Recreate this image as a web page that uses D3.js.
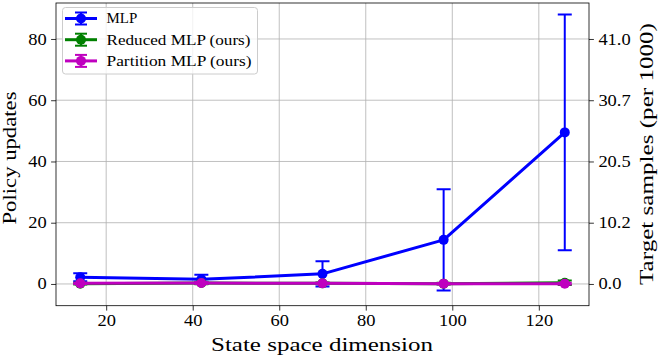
<!DOCTYPE html>
<html><head><meta charset="utf-8">
<script src="https://cdn.jsdelivr.net/npm/d3@7"></script>
<style>body{margin:0;background:#fff;} svg{display:block;}</style>
</head><body>
<script>
const dims = [14, 42, 70, 98, 126];
const mlpMean = [2.2, 1.5, 3.3, 14.4, 49.5];
const mlpErr = [1.3, 1.5, 4.1, 16.5, 38.5];
const redMean = [0.1, 0.3, 0.2, 0.1, 0.4];
const redErr = [0.3, 0.4, 0.3, 0.3, 0.7];
const partMean = [0.2, 0.3, 0.2, 0.1, 0.1];
const partErr = [0.2, 0.3, 0.2, 0.2, 0.3];
const xTicks = [20, 40, 60, 80, 100, 120];
const yTicks = [0, 20, 40, 60, 80];
const rightTickLabels = ["0.0", "10.2", "20.5", "30.7", "41.0"];
const seriesNames = ["MLP", "Reduced MLP (ours)", "Partition MLP (ours)"];
const seriesColors = ["#0000ff", "#008000", "#bf00bf"];

const FONT = "'Liberation Serif', serif";
const W = 658, H = 355;
const L = 56, R = 589, T = 3, B = 305.7;
const svg = d3.select("body").append("svg").attr("width", W).attr("height", H);
const x = d3.scaleLinear().domain([8.4, 131.6]).range([L, R]);
const y = d3.scaleLinear().domain([-7.1, 91.75]).range([B, T]);

// grid
const g = svg.append("g");
g.selectAll(".gx").data(xTicks).join("line")
  .attr("x1", d => x(d)).attr("x2", d => x(d)).attr("y1", T).attr("y2", B)
  .attr("stroke", "#b0b0b0").attr("stroke-width", 0.8);
g.selectAll(".gy").data(yTicks).join("line")
  .attr("y1", d => y(d)).attr("y2", d => y(d)).attr("x1", L).attr("x2", R)
  .attr("stroke", "#b0b0b0").attr("stroke-width", 0.8);

// widen Liberation Serif digits to the wider serif face of the reference
function tickWidth(s) {
  let w = 0;
  for (const ch of s) w += (ch === "." ? 0.318 : 0.636) * 14.5;
  return w;
}
const xAxis = d3.axisBottom(x).tickValues(xTicks).tickSize(4.9).tickPadding(4.5).tickFormat(d3.format("d"));
const yAxis = d3.axisLeft(y).tickValues(yTicks).tickSize(4.9).tickPadding(4.5).tickFormat(d3.format("d"));
const yAxisR = d3.axisRight(y).tickValues(yTicks).tickSize(4.9).tickPadding(4.5).tickFormat((d, i) => rightTickLabels[i]);
function style(sel) {
  sel.attr("font-family", null).attr("font-size", null);
  sel.select(".domain").remove();
  sel.selectAll("line").attr("stroke", "#000").attr("stroke-width", 0.8);
  sel.selectAll("text").attr("fill", "#000")
    .style("font-family", FONT).style("font-size", "15.7px")
    .attr("lengthAdjust", "spacingAndGlyphs")
    .attr("textLength", function () { return tickWidth(this.textContent); });
}
svg.append("g").attr("transform", `translate(0,${B})`).call(xAxis).call(style);
svg.append("g").attr("transform", `translate(${L},0)`).call(yAxis).call(style);
svg.append("g").attr("transform", `translate(${R},0)`).call(yAxisR).call(style);

// series
const series = [
  {mean: mlpMean, err: mlpErr},
  {mean: redMean, err: redErr},
  {mean: partMean, err: partErr}
];
svg.append("clipPath").attr("id", "c").append("rect")
  .attr("x", L).attr("y", T).attr("width", R - L).attr("height", B - T);
const plot = svg.append("g").attr("clip-path", "url(#c)");
const line = d3.line().x((d, i) => x(dims[i])).y(d => y(d));
series.forEach((s, k) => {
  const c = seriesColors[k];
  const sg = plot.append("g");
  sg.selectAll(".eb").data(s.mean).join("line")
    .attr("x1", (d, i) => x(dims[i])).attr("x2", (d, i) => x(dims[i]))
    .attr("y1", (d, i) => y(d - s.err[i])).attr("y2", (d, i) => y(d + s.err[i]))
    .attr("stroke", c).attr("stroke-width", 2);
  [-1, 1].forEach(sgn => {
    sg.selectAll(".cap" + sgn).data(s.mean).join("line")
      .attr("x1", (d, i) => x(dims[i]) - 7).attr("x2", (d, i) => x(dims[i]) + 7)
      .attr("y1", (d, i) => y(d + sgn * s.err[i])).attr("y2", (d, i) => y(d + sgn * s.err[i]))
      .attr("stroke", c).attr("stroke-width", 2);
  });
  sg.append("path").datum(s.mean).attr("d", line)
    .attr("fill", "none").attr("stroke", c).attr("stroke-width", 3).attr("stroke-linejoin", "round");
  sg.selectAll("circle").data(s.mean).join("circle")
    .attr("cx", (d, i) => x(dims[i])).attr("cy", d => y(d)).attr("r", 5).attr("fill", c);
});

// frame
svg.append("rect").attr("x", L).attr("y", T).attr("width", R - L).attr("height", B - T)
  .attr("fill", "none").attr("stroke", "#000").attr("stroke-width", 0.8);

// axis labels
function label(sel, len) {
  sel.style("font-family", FONT).style("font-size", "18.5px").attr("fill", "#000")
    .attr("lengthAdjust", "spacingAndGlyphs").attr("textLength", len);
}
svg.append("text").attr("x", 322).attr("y", 351).attr("text-anchor", "middle")
  .text("State space dimension").call(label, 222);
svg.append("text").attr("transform", `translate(16,158) rotate(-90)`).attr("text-anchor", "middle")
  .text("Policy updates").call(label, 133);
svg.append("text").attr("transform", `translate(653,154) rotate(-90)`).attr("text-anchor", "middle")
  .text("Target samples (per 1000)").call(label, 262);

// legend
const legendLens = [30.7, 144, 145];
const lg = svg.append("g");
lg.append("rect").attr("x", 62.5).attr("y", 7.5).attr("width", 195).attr("height", 66.5).attr("rx", 3)
  .attr("fill", "#fff").attr("fill-opacity", 0.8).attr("stroke", "#cccccc").attr("stroke-width", 1);
seriesNames.forEach((n, k) => {
  const cy = 18.5 + k * 21.2, c = seriesColors[k];
  const r = lg.append("g");
  r.append("line").attr("x1", 65).attr("x2", 97).attr("y1", cy).attr("y2", cy).attr("stroke", c).attr("stroke-width", 3);
  r.append("line").attr("x1", 81).attr("x2", 81).attr("y1", cy - 6).attr("y2", cy + 6).attr("stroke", c).attr("stroke-width", 2);
  r.append("line").attr("x1", 75).attr("x2", 87).attr("y1", cy - 6).attr("y2", cy - 6).attr("stroke", c).attr("stroke-width", 2);
  r.append("line").attr("x1", 75).attr("x2", 87).attr("y1", cy + 6).attr("y2", cy + 6).attr("stroke", c).attr("stroke-width", 2);
  r.append("circle").attr("cx", 81).attr("cy", cy).attr("r", 5).attr("fill", c);
  r.append("text").attr("x", 106.5).attr("y", cy + 4.8).text(n)
    .style("font-family", FONT).style("font-size", "13.8px").attr("fill", "#000")
    .attr("lengthAdjust", "spacingAndGlyphs").attr("textLength", legendLens[k]);
});
</script>
</body></html>
